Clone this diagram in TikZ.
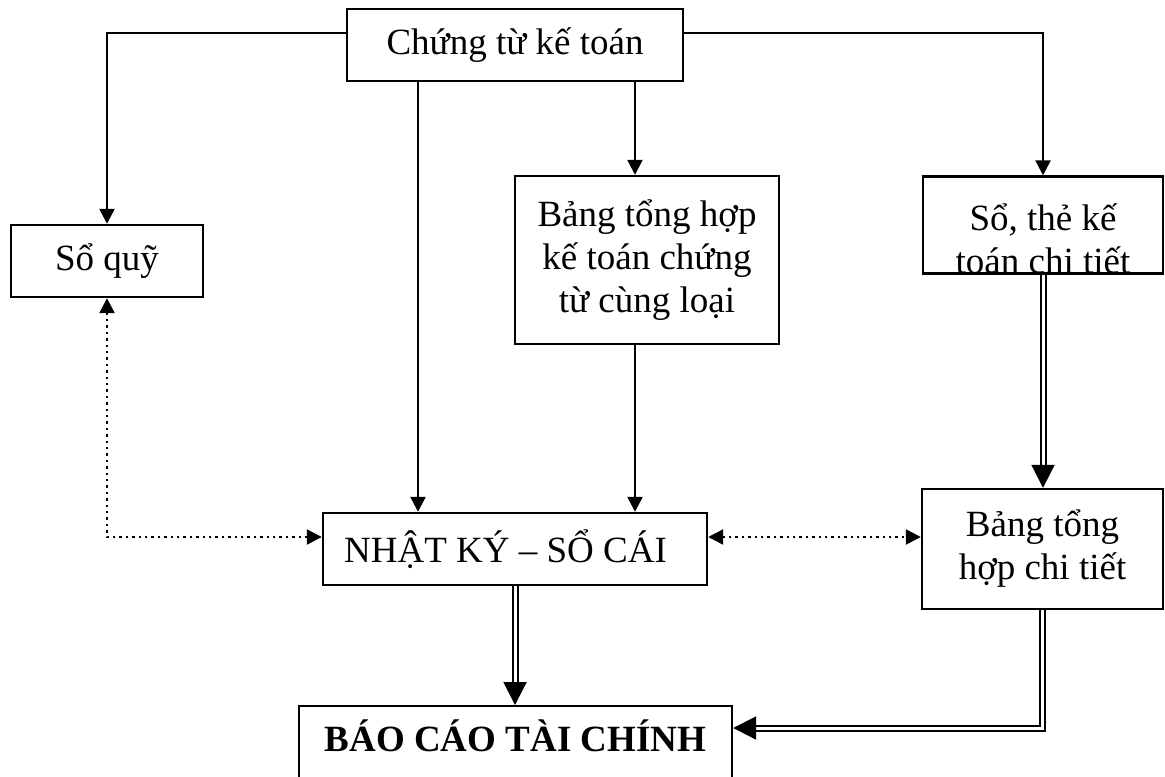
\documentclass[tikz,border=0pt]{standalone}
\usepackage{fontspec}
\setmainfont{Liberation Serif}
\usetikzlibrary{arrows.meta}

\begin{document}
\begin{tikzpicture}[x=0.5pt, y=-0.5pt,
    box/.style={draw, line width=1.2pt, inner sep=0pt, align=flush center,
        font=\fontsize{18.5}{21.5}\selectfont},
    arr/.style={line width=1.2pt, -{Triangle[length=7.5pt,width=7.5pt]}},
    dots/.style={line width=1.2pt, dotted,
        {Triangle[length=7.5pt,width=7.5pt]}-{Triangle[length=7.5pt,width=7.5pt]}},
    dbl/.style={double, line width=1pt, double distance=1.5pt,
        -{Triangle[length=11.5pt,width=11.5pt]}}]
    \clip (0,0) rectangle (1165,776);
    % Boxes
    \node[box, minimum width=168pt, minimum height=36pt] (ctkt) at (515,45) {Chứng từ kế toán};
    \node[box, minimum width=96pt, minimum height=36pt] (soquy) at (107,261) {Sổ quỹ};
    \node[box, text width=132pt, minimum height=84pt] (bangth) at (647,260)
        {Bảng tổng hợp\\kế toán chứng\\từ cùng loại};
    \node[box, text width=120pt, text height=27pt, text depth=21.5pt] (sothe) at (1043,225)
        {Sổ, thẻ kế\\toán chi tiết};
    \node[box, minimum width=192pt, minimum height=36pt] (nkysc) at (515,549)
        {NHẬT KÝ – SỔ CÁI\hspace*{9.5pt}};
    \node[box, text width=120.5pt, minimum height=60pt] (bangct) at (1042.5,549)
        {Bảng tổng\\hợp chi tiết};
    \node[box, anchor=north, text width=216.5pt, text height=16.5pt, text depth=30pt,
        inner ysep=6pt, font=\fontsize{18.5}{21.5}\selectfont\bfseries] (bctc) at (515.5,705)
        {BÁO CÁO TÀI CHÍNH};
    % Single arrows
    \draw[arr] ([yshift=6pt]ctkt.west) -| (soquy.north);
    \draw[arr] ([yshift=6pt]ctkt.east) -| (sothe.north);
    \draw[arr] ([xshift=-48.5pt]ctkt.south) -- ([xshift=-48.5pt]nkysc.north);
    \draw[arr] ([xshift=60pt]ctkt.south) -- ([xshift=-6pt]bangth.north);
    \draw[arr] ([xshift=-6pt]bangth.south) -- ([xshift=60pt]nkysc.north);
    % Dotted arrows
    \draw[dots] (soquy.south) |- ([yshift=6pt]nkysc.west);
    \draw[dots] ([yshift=6pt]nkysc.east) -- ([yshift=6pt]bangct.west);
    % Double arrows
    \draw[dbl] (sothe.south) -- (sothe.south |- bangct.north);
    \draw[dbl] (nkysc.south) -- (nkysc.south |- bctc.north);
    \draw[dbl] (bangct.south) |- ([yshift=-11.5pt]bctc.north east);
\end{tikzpicture}
\end{document}
